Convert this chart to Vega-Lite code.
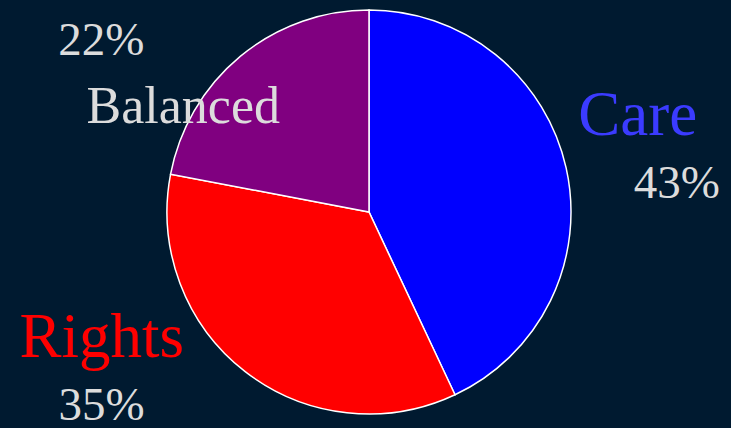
{
  "$schema": "https://vega.github.io/schema/vega-lite/v6.json",
  "width": 724,
  "height": 424,
  "autosize": "none",
  "padding": {"left": 7, "top": 0, "right": 0, "bottom": 4},
  "background": "#001a30",
  "config": {"view": {"stroke": null}},
  "data": {
    "values": [
      {"cat": "Care", "share": 0.43, "rank": 1},
      {"cat": "Rights", "share": 0.35, "rank": 2},
      {"cat": "Balanced", "share": 0.22, "rank": 3}
    ]
  },
  "encoding": {
    "theta": {"field": "share", "type": "quantitative", "stack": true},
    "order": {"field": "rank", "type": "quantitative"}
  },
  "layer": [
    {
      "mark": {"type": "arc", "outerRadius": 202, "stroke": "#ffffff", "strokeWidth": 1.5},
      "encoding": {
        "color": {
          "field": "cat",
          "type": "nominal",
          "scale": {"domain": ["Care", "Rights", "Balanced"], "range": ["#0000ff", "#ff0000", "#800080"]},
          "legend": null
        }
      }
    },
    {
      "mark": {"type": "text", "radius": 260, "font": "Liberation Serif", "fontSize": 63, "dx": 15, "dy": -20, "color": "#3b3bff", "align": "center", "baseline": "alphabetic"},
      "encoding": {"text": {"condition": {"test": "datum.cat === 'Care'", "field": "cat", "type": "nominal"}, "value": ""}}
    },
    {
      "mark": {"type": "text", "radius": 260, "font": "Liberation Serif", "fontSize": 47, "dx": 54, "dy": 43, "color": "#dcdcdc", "align": "center", "baseline": "alphabetic"},
      "encoding": {"text": {"condition": {"test": "datum.cat === 'Care'", "field": "share", "type": "quantitative", "format": ".0%"}, "value": ""}}
    },
    {
      "mark": {"type": "text", "radius": 260, "font": "Liberation Serif", "fontSize": 63, "dx": -108, "dy": -60, "color": "#ff0000", "align": "center", "baseline": "alphabetic"},
      "encoding": {"text": {"condition": {"test": "datum.cat === 'Rights'", "field": "cat", "type": "nominal"}, "value": ""}}
    },
    {
      "mark": {"type": "text", "radius": 260, "font": "Liberation Serif", "fontSize": 47, "dx": -108, "dy": 3, "color": "#dcdcdc", "align": "center", "baseline": "alphabetic"},
      "encoding": {"text": {"condition": {"test": "datum.cat === 'Rights'", "field": "share", "type": "quantitative", "format": ".0%"}, "value": ""}}
    },
    {
      "mark": {"type": "text", "radius": 260, "font": "Liberation Serif", "fontSize": 52, "dx": -20, "dy": 111, "color": "#dcdcdc", "align": "center", "baseline": "alphabetic"},
      "encoding": {"text": {"condition": {"test": "datum.cat === 'Balanced'", "field": "cat", "type": "nominal"}, "value": ""}}
    },
    {
      "mark": {"type": "text", "radius": 260, "font": "Liberation Serif", "fontSize": 47, "dx": -102, "dy": 43, "color": "#dcdcdc", "align": "center", "baseline": "alphabetic"},
      "encoding": {"text": {"condition": {"test": "datum.cat === 'Balanced'", "field": "share", "type": "quantitative", "format": ".0%"}, "value": ""}}
    }
  ]
}
